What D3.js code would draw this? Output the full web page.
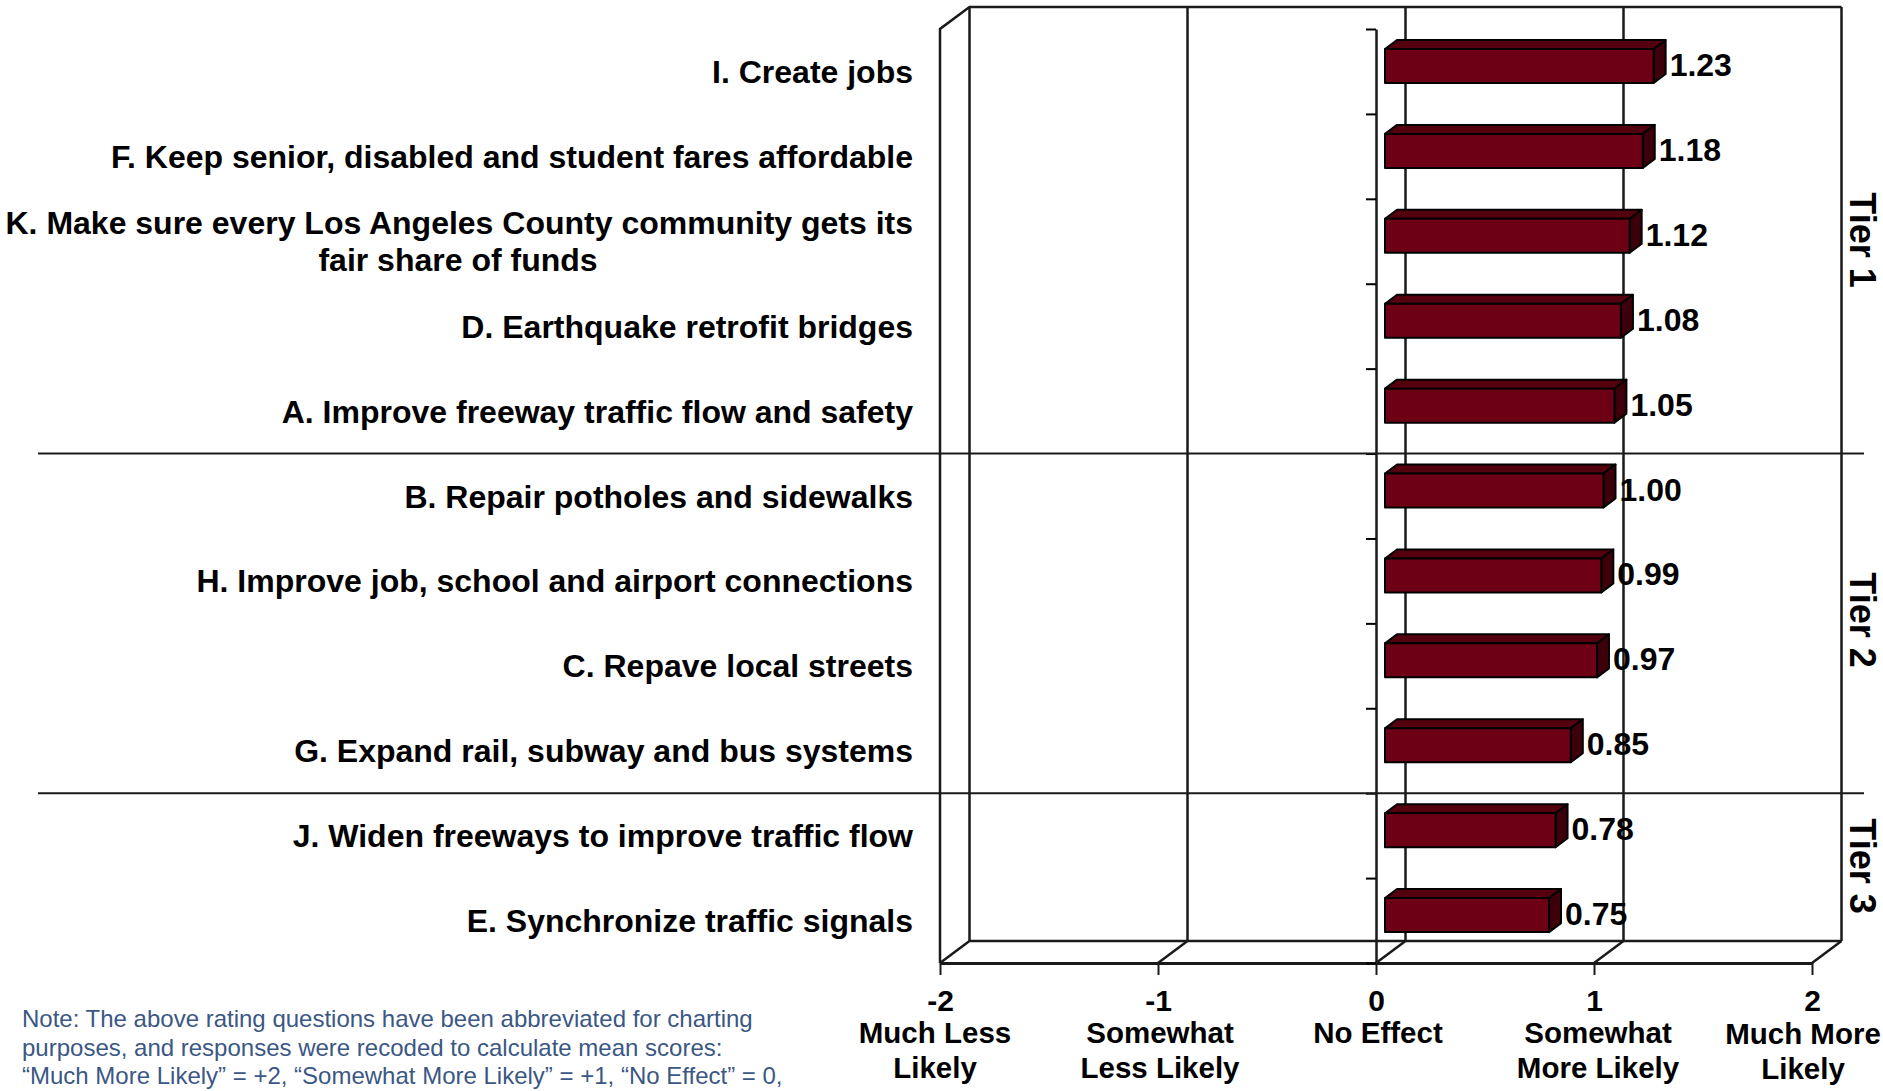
<!DOCTYPE html>
<html>
<head>
<meta charset="utf-8">
<style>
html, body { margin: 0; background: #fff; }
svg { display: block; }
text { font-family: "Liberation Sans", Arial, sans-serif; font-weight: bold; fill: #000; }
</style>
</head>
<body>
<svg></svg>
<script src="https://cdn.jsdelivr.net/npm/d3@7"></script>
<script>
const categories = [
    ["I. Create jobs"],
    ["F. Keep senior, disabled and student fares affordable"],
    ["K. Make sure every Los Angeles County community gets its", "fair share of funds"],
    ["D. Earthquake retrofit bridges"],
    ["A. Improve freeway traffic flow and safety"],
    ["B. Repair potholes and sidewalks"],
    ["H. Improve job, school and airport connections"],
    ["C. Repave local streets"],
    ["G. Expand rail, subway and bus systems"],
    ["J. Widen freeways to improve traffic flow"],
    ["E. Synchronize traffic signals"]
];
const values = [1.23, 1.18, 1.12, 1.08, 1.05, 1.00, 0.99, 0.97, 0.85, 0.78, 0.75];
const xTicks = [-2, -1, 0, 1, 2];
const xTickLabels = [
    ["Much Less", "Likely"],
    ["Somewhat", "Less Likely"],
    ["No Effect"],
    ["Somewhat", "More Likely"],
    ["Much More", "Likely"]
];
const tiers = ["Tier 1", "Tier 2", "Tier 3"];
const tierSpans = [[0, 5], [5, 9], [9, 11]];
const noteLines = [
    "Note: The above rating questions have been abbreviated for charting",
    "purposes, and responses were recoded to calculate mean scores:",
    "“Much More Likely” = +2, “Somewhat More Likely” = +1, “No Effect” = 0,"
];

const width = 1883;
const height = 1091;

// front plane of the 3d box
const plotLeft = 940, plotRight = 1812, plotTop = 29, plotBottom = 963;
const wallDx = 29.5, wallDy = 22;
const barDx = 12, barDy = 9, barOffset = 9.5;
const barStart = 1385, barTop = 20, barH = 34;
const labelRight = 913;

const svg = d3.select("svg")
    .attr("width", width)
    .attr("height", height);

const x = d3.scaleLinear().domain([-2, 2]).range([plotLeft, plotRight]);
const y = d3.scaleBand().domain(d3.range(categories.length)).range([plotTop, plotBottom]);
const yEdges = d3.scaleLinear().domain([0, categories.length]).range([plotTop, plotBottom]);

// walls
const box = svg.append("g").attr("fill", "none").attr("stroke", "#1a1a1a").attr("stroke-width", 2.5);

xTicks.forEach(d => {
    box.append("line")
        .attr("x1", x(d) + wallDx).attr("x2", x(d) + wallDx)
        .attr("y1", plotTop - wallDy).attr("y2", plotBottom - wallDy);
    box.append("line")
        .attr("x1", x(d)).attr("x2", x(d) + wallDx)
        .attr("y1", plotBottom).attr("y2", plotBottom - wallDy);
});
box.append("path")
    .attr("d", `M${plotLeft},${plotBottom}V${plotTop}L${plotLeft + wallDx},${plotTop - wallDy}H${plotRight + wallDx}`);
box.append("line")
    .attr("x1", plotLeft + wallDx).attr("x2", plotRight + wallDx)
    .attr("y1", plotBottom - wallDy).attr("y2", plotBottom - wallDy);

// axes
const xAxis = d3.axisBottom(x).tickValues(xTicks).tickSize(12).tickSizeOuter(0).tickFormat(d => String(d));
const yAxis = d3.axisLeft(yEdges).ticks(categories.length).tickSize(10).tickSizeOuter(0).tickFormat("");

const xG = svg.append("g")
    .attr("transform", `translate(0, ${plotBottom})`)
    .call(xAxis);
xG.selectAll("line").attr("stroke", "#1a1a1a").attr("stroke-width", 2);
xG.select(".domain").attr("stroke", "#1a1a1a").attr("stroke-width", 3);
xG.selectAll("text")
    .attr("y", 48).attr("dy", 0)
    .style("font-size", "30px")
    .style("font-family", '"Liberation Sans", Arial, sans-serif');

const yG = svg.append("g")
    .attr("transform", `translate(${x(0)}, 0)`)
    .call(yAxis);
yG.selectAll("line").attr("stroke", "#000").attr("stroke-width", 2);
yG.select(".domain").attr("stroke", "#1a1a1a").attr("stroke-width", 2.5);

// x tick captions
const captionX = [935, 1160, 1378, 1598, 1803];
const captionY = [1043, 1043, 1043, 1043, 1044];
xTickLabels.forEach((lines, i) => {
    lines.forEach((s, j) => {
        svg.append("text")
            .attr("x", captionX[i])
            .attr("y", captionY[i] + j * 35)
            .attr("text-anchor", "middle")
            .attr("font-size", 29.5)
            .text(s);
    });
});

// bars
const bars = svg.selectAll(".bar")
    .data(values)
    .enter()
    .append("g")
    .attr("class", "bar")
    .attr("stroke", "#000")
    .attr("stroke-width", 2)
    .attr("stroke-linejoin", "round");

bars.append("path")
    .attr("fill", "#55000f")
    .attr("d", (d, i) => {
        const t = y(i) + barTop, r = x(d) + barOffset;
        return `M${barStart},${t}L${barStart + barDx},${t - barDy}H${r + barDx}L${r},${t}Z`;
    });
bars.append("path")
    .attr("fill", "#3d000b")
    .attr("d", (d, i) => {
        const t = y(i) + barTop, r = x(d) + barOffset;
        return `M${r},${t}L${r + barDx},${t - barDy}V${t + barH - barDy}L${r},${t + barH}Z`;
    });
bars.append("rect")
    .attr("fill", "#6e0016")
    .attr("x", barStart)
    .attr("y", (d, i) => y(i) + barTop)
    .attr("width", d => x(d) + barOffset - barStart)
    .attr("height", barH);

svg.selectAll(".value")
    .data(values)
    .enter()
    .append("text")
    .attr("class", "value")
    .attr("x", d => x(d) + barOffset + 16)
    .attr("y", (d, i) => y(i) + 47)
    .attr("font-size", 32)
    .text(d => d.toFixed(2));

// category labels
categories.forEach((lines, i) => {
    const base = y(i) + 54 - (lines.length - 1) * 19;
    lines.forEach((s, j) => {
        svg.append("text")
            .attr("x", j === 0 ? labelRight : labelRight - 455)
            .attr("y", base + j * 37)
            .attr("text-anchor", j === 0 ? "end" : "middle")
            .attr("font-size", 32)
            .text(s);
    });
});

// tier dividers
tierSpans.slice(1).forEach(s => {
    svg.append("line")
        .attr("x1", 38).attr("x2", 1864)
        .attr("y1", yEdges(s[0])).attr("y2", yEdges(s[0]))
        .attr("stroke", "#1a1a1a").attr("stroke-width", 2);
});

// tier labels
const tierY = [240, 620, 866];
tiers.forEach((t, i) => {
    svg.append("text")
        .attr("transform", `translate(1850, ${tierY[i]}) rotate(90)`)
        .attr("text-anchor", "middle")
        .attr("font-size", 36)
        .text(t);
});

// note
noteLines.forEach((s, i) => {
    svg.append("text")
        .attr("x", 22)
        .attr("y", 1027 + i * 28.5)
        .attr("font-size", 24)
        .style("font-weight", "normal")
        .style("fill", "#3b5784")
        .text(s);
});
</script>
</body>
</html>
